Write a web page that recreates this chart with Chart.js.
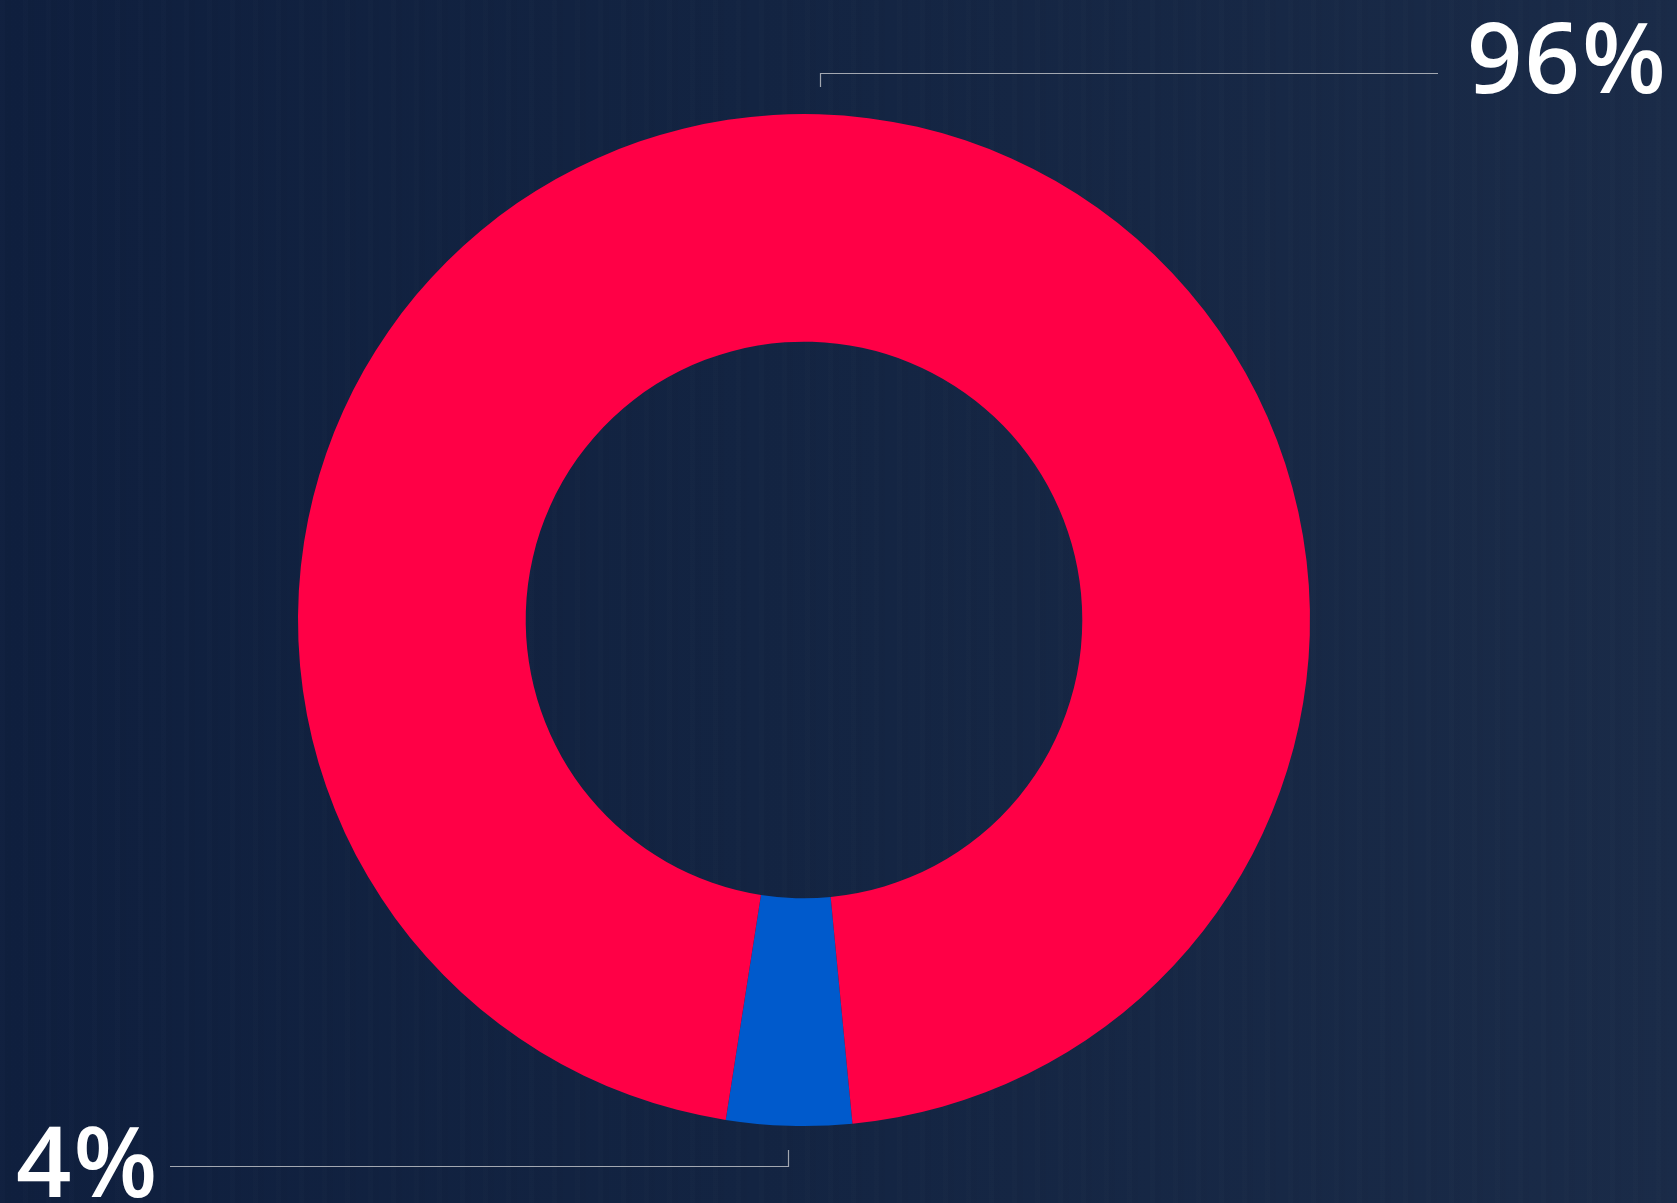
<!DOCTYPE html>
<html>
<head>
<meta charset="utf-8">
<title>Share doughnut</title>
<script src="https://cdn.jsdelivr.net/npm/chart.js@4.4.0/dist/chart.umd.min.js"></script>
<style>
  html, body {
    margin: 0;
    padding: 0;
    width: 1677px;
    height: 1203px;
    overflow: hidden;
  }
  body {
    background:
      repeating-linear-gradient(90deg, rgba(255,255,255,0.008) 0px, rgba(255,255,255,0.008) 5px, rgba(0,0,0,0.015) 5px, rgba(0,0,0,0.015) 11px, rgba(255,255,255,0) 11px, rgba(255,255,255,0) 23px),
      linear-gradient(90deg, #0f1f3e 0%, #132442 45%, #1a2b48 100%);
  }
  #wrap {
    position: absolute;
    left: 0;
    top: 0;
    width: 1677px;
    height: 1203px;
  }
</style>
</head>
<body>
<div id="wrap"><canvas id="myChart"></canvas></div>
<script>
var categories = ['Blue', 'Red'];
var values = [4, 96];
var colors = ['#005acc', '#ff0046'];

// leader lines + big percent labels
var labelPlugin = {
  id: 'bigLabels',
  afterDraw: function (chart) {
    var ctx = chart.ctx;
    ctx.save();
    ctx.strokeStyle = '#a3a8b1';
    ctx.lineWidth = 1.2;

    // top right (red)
    ctx.beginPath();
    ctx.moveTo(820.5, 87);
    ctx.lineTo(820.5, 73.5);
    ctx.lineTo(1438, 73.5);
    ctx.stroke();

    // bottom left (blue)
    ctx.beginPath();
    ctx.moveTo(170, 1166.5);
    ctx.lineTo(788.5, 1166.5);
    ctx.lineTo(788.5, 1150);
    ctx.stroke();

    ctx.fillStyle = '#ffffff';
    ctx.font = '600 97px "Open Sans"';
    ctx.letterSpacing = '2px';
    ctx.textBaseline = 'alphabetic';
    ctx.textAlign = 'left';
    ctx.fillText(values[1] + '%', 1467, 93);
    ctx.fillText(values[0] + '%', 16, 1197);
    ctx.restore();
  }
};

var ctx = document.getElementById('myChart');
var chart = new Chart(ctx, {
  type: 'doughnut',
  data: {
    labels: categories,
    datasets: [{
      data: values,
      backgroundColor: colors,
      borderWidth: 0,
      hoverOffset: 0
    }]
  },
  options: {
    responsive: true,
    maintainAspectRatio: false,
    animation: false,
    cutout: '55%',
    rotation: 174.5,
    layout: {
      padding: { left: 298, top: 114, right: 367, bottom: 77 }
    },
    plugins: {
      legend: { display: false },
      tooltip: { enabled: false }
    }
  },
  plugins: [labelPlugin]
});
</script>
</body>
</html>
